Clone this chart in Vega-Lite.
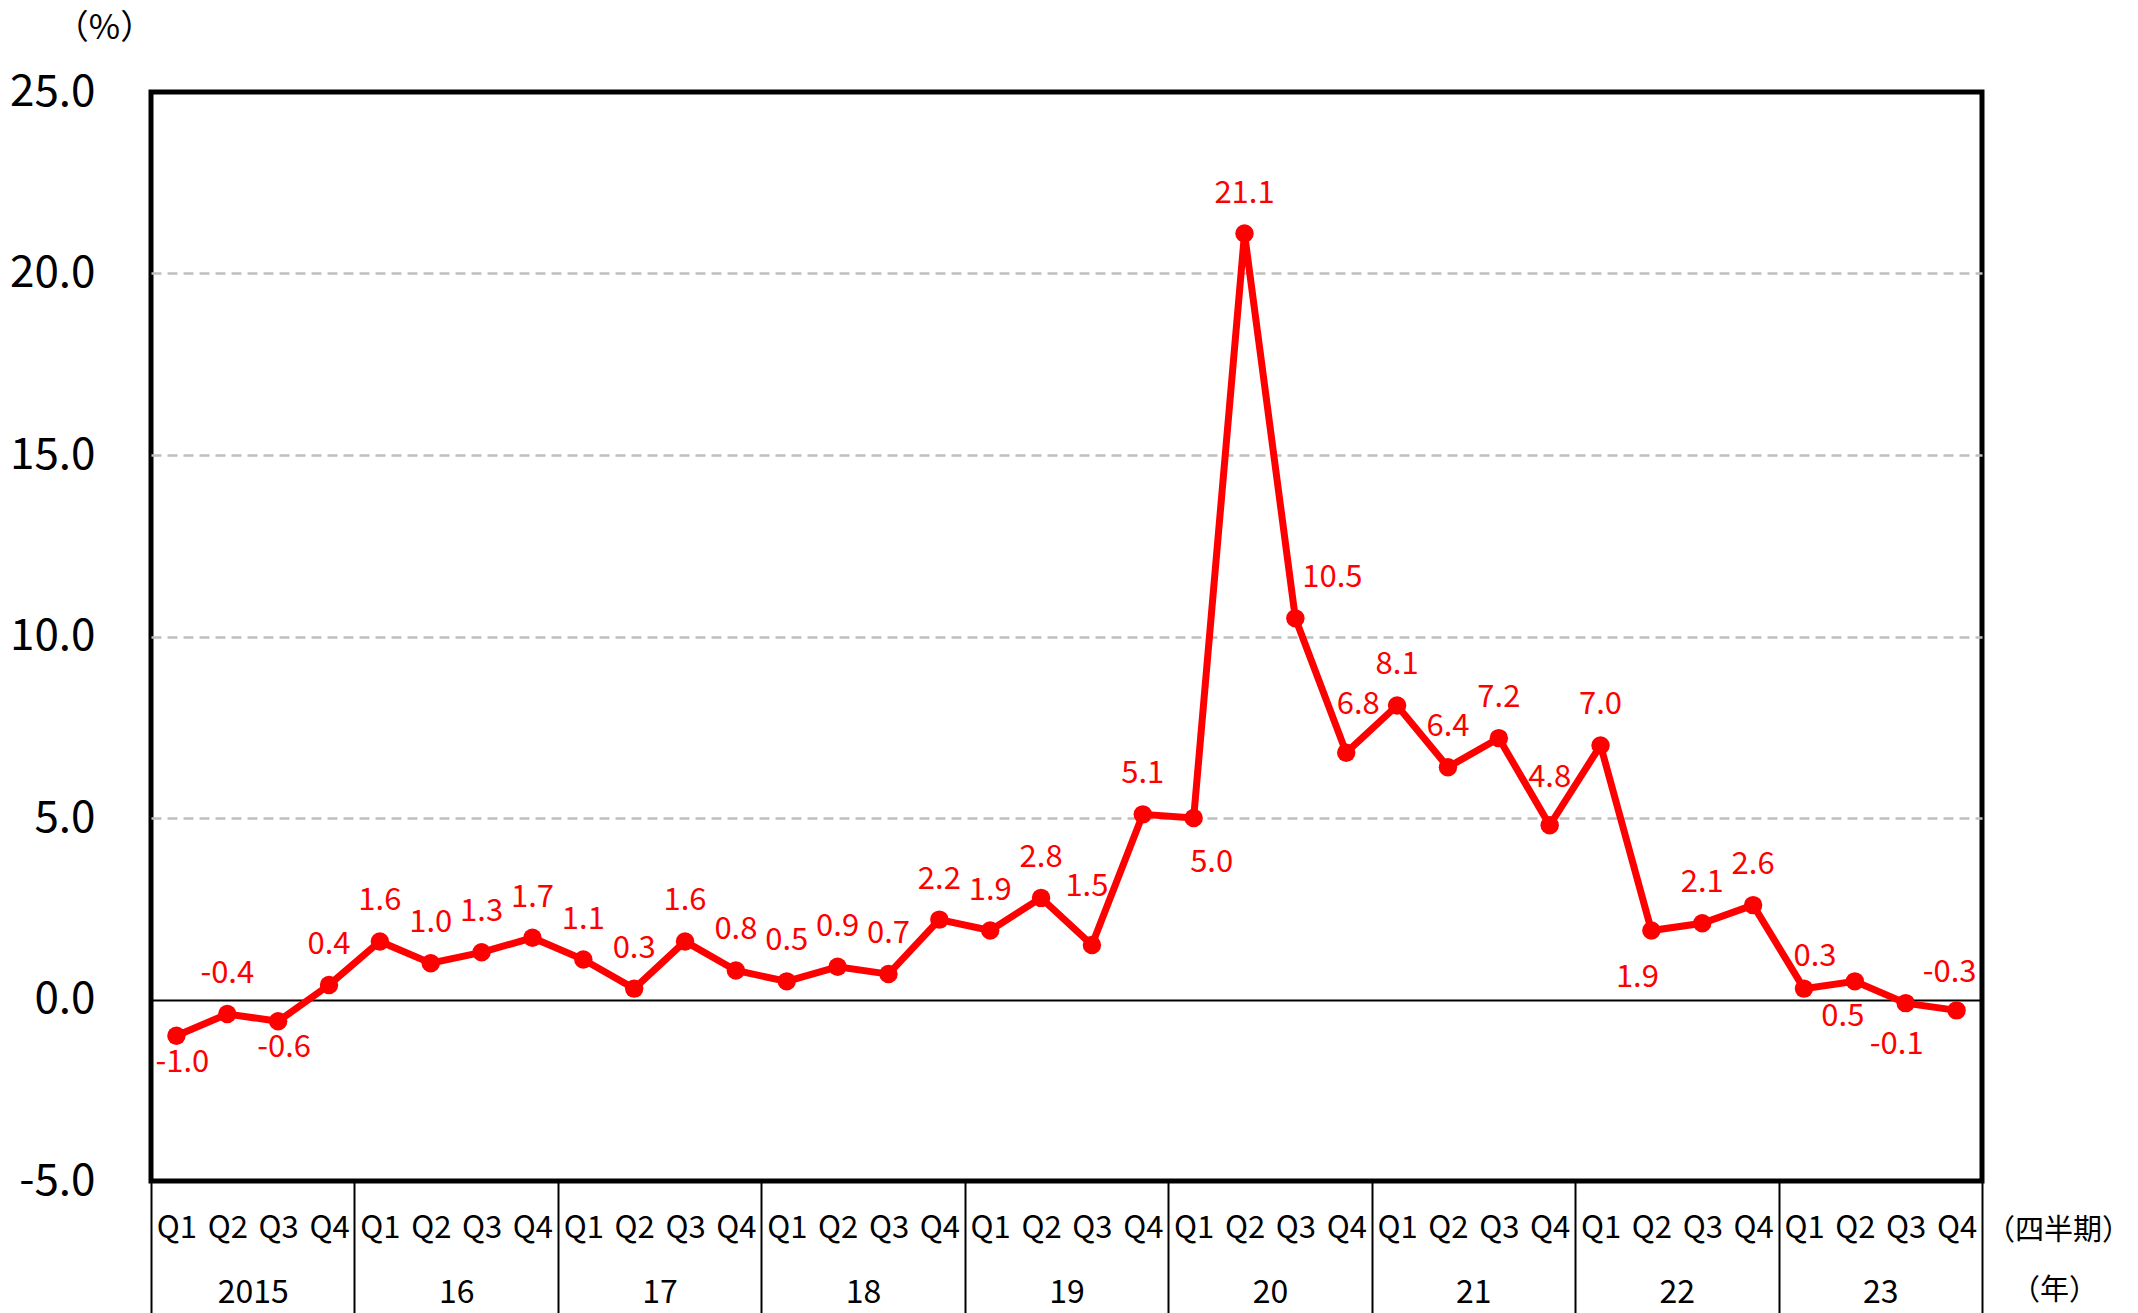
{
  "$schema": "https://vega.github.io/schema/vega-lite/v6.json",
  "width": 1831,
  "height": 1089,
  "autosize": "none",
  "padding": {"left": 151, "top": 92, "right": 156, "bottom": 132},
  "background": "white",
  "config": {
    "font": "Noto Sans CJK JP",
    "locale": {"number": {"decimal": ".", "thousands": ",", "grouping": [3], "currency": ["$", ""], "minus": "-"}},
    "view": {"stroke": "black", "strokeWidth": 5},
    "axis": {"labelColor": "black", "titleColor": "black", "labelFont": "Noto Sans CJK JP", "titleFont": "Noto Sans CJK JP", "titleFontWeight": "normal"}
  },
  "data": {
    "values": [
      {"i": 0, "v": -1.0}, {"i": 1, "v": -0.4}, {"i": 2, "v": -0.6}, {"i": 3, "v": 0.4},
      {"i": 4, "v": 1.6}, {"i": 5, "v": 1.0}, {"i": 6, "v": 1.3}, {"i": 7, "v": 1.7},
      {"i": 8, "v": 1.1}, {"i": 9, "v": 0.3}, {"i": 10, "v": 1.6}, {"i": 11, "v": 0.8},
      {"i": 12, "v": 0.5}, {"i": 13, "v": 0.9}, {"i": 14, "v": 0.7}, {"i": 15, "v": 2.2},
      {"i": 16, "v": 1.9}, {"i": 17, "v": 2.8}, {"i": 18, "v": 1.5}, {"i": 19, "v": 5.1},
      {"i": 20, "v": 5.0}, {"i": 21, "v": 21.1}, {"i": 22, "v": 10.5}, {"i": 23, "v": 6.8},
      {"i": 24, "v": 8.1}, {"i": 25, "v": 6.4}, {"i": 26, "v": 7.2}, {"i": 27, "v": 4.8},
      {"i": 28, "v": 7.0}, {"i": 29, "v": 1.9}, {"i": 30, "v": 2.1}, {"i": 31, "v": 2.6},
      {"i": 32, "v": 0.3}, {"i": 33, "v": 0.5}, {"i": 34, "v": -0.1}, {"i": 35, "v": -0.3}
    ]
  },
  "layer": [
    {
      "encoding": {
        "x": {
          "field": "i", "type": "quantitative",
          "scale": {"domain": [-0.5, 35.5], "nice": false, "zero": false},
          "axis": {
            "orient": "bottom",
            "values": [0,1,2,3,4,5,6,7,8,9,10,11,12,13,14,15,16,17,18,19,20,21,22,23,24,25,26,27,28,29,30,31,32,33,34,35],
            "labelExpr": "'Q' + (datum.value % 4 + 1)",
            "ticks": false, "domain": false, "grid": false,
            "labelFontSize": 31, "labelBaseline": "middle", "labelPadding": 47,
            "labelFlush": false, "labelOverlap": false, "labelBound": false,
            "title": "（四半期）", "titleFontSize": 29, "titleAngle": 0,
            "titleX": 1907, "titleY": 49, "titleAlign": "center", "titleBaseline": "middle"
          }
        },
        "y": {
          "field": "v", "type": "quantitative",
          "scale": {"domain": [-5, 25], "nice": false, "zero": false},
          "axis": {
            "values": [-5, 0, 5, 10, 15, 20, 25],
            "format": ".1f",
            "ticks": false, "domain": false, "grid": true,
            "gridColor": {"condition": {"test": "datum.value === 0", "value": "black"}, "value": "#BFBFBF"},
            "gridDash": {"condition": {"test": "datum.value === 0", "value": []}, "value": [10, 6]},
            "gridWidth": {"condition": {"test": "datum.value === 0", "value": 2}, "value": 2.5},
            "gridOpacity": {"condition": {"test": "datum.value === -5 || datum.value === 25", "value": 0}, "value": 1},
            "labelFontSize": 44, "labelPadding": 56,
            "title": "（%）", "titleFontSize": 34, "titleAngle": 0,
            "titleX": -47, "titleY": -64, "titleAlign": "center", "titleBaseline": "middle"
          }
        }
      },
      "layer": [
        {"mark": {"type": "line", "color": "#FF0000", "strokeWidth": 7}},
        {"mark": {"type": "point", "filled": true, "color": "#FF0000", "size": 340, "opacity": 1}},
        {
          "transform": [{"filter": {"not": {"field": "i", "oneOf": [0, 2, 18, 20, 22, 23, 27, 29, 32, 33, 34, 35]}}}],
          "mark": {"type": "text", "color": "#FF0000", "fontSize": 31, "align": "center", "baseline": "middle", "dy": -40},
          "encoding": {"text": {"field": "v", "type": "quantitative", "format": ".1f"}}
        },
        {
          "transform": [{"filter": {"field": "i", "oneOf": [0, 2]}}],
          "mark": {"type": "text", "color": "#FF0000", "fontSize": 31, "align": "center", "baseline": "middle", "dx": 6, "dy": 27},
          "encoding": {"text": {"field": "v", "type": "quantitative", "format": ".1f"}}
        },
        {
          "transform": [{"filter": {"field": "i", "oneOf": [18]}}],
          "mark": {"type": "text", "color": "#FF0000", "fontSize": 31, "align": "center", "baseline": "middle", "dx": -5, "dy": -58},
          "encoding": {"text": {"field": "v", "type": "quantitative", "format": ".1f"}}
        },
        {
          "transform": [{"filter": {"field": "i", "oneOf": [20]}}],
          "mark": {"type": "text", "color": "#FF0000", "fontSize": 31, "align": "center", "baseline": "middle", "dx": 18, "dy": 45},
          "encoding": {"text": {"field": "v", "type": "quantitative", "format": ".1f"}}
        },
        {
          "transform": [{"filter": {"field": "i", "oneOf": [22]}}],
          "mark": {"type": "text", "color": "#FF0000", "fontSize": 31, "align": "center", "baseline": "middle", "dx": 37, "dy": -40},
          "encoding": {"text": {"field": "v", "type": "quantitative", "format": ".1f"}}
        },
        {
          "transform": [{"filter": {"field": "i", "oneOf": [23]}}],
          "mark": {"type": "text", "color": "#FF0000", "fontSize": 31, "align": "center", "baseline": "middle", "dx": 12, "dy": -48},
          "encoding": {"text": {"field": "v", "type": "quantitative", "format": ".1f"}}
        },
        {
          "transform": [{"filter": {"field": "i", "oneOf": [27]}}],
          "mark": {"type": "text", "color": "#FF0000", "fontSize": 31, "align": "center", "baseline": "middle", "dx": 0, "dy": -47},
          "encoding": {"text": {"field": "v", "type": "quantitative", "format": ".1f"}}
        },
        {
          "transform": [{"filter": {"field": "i", "oneOf": [29]}}],
          "mark": {"type": "text", "color": "#FF0000", "fontSize": 31, "align": "center", "baseline": "middle", "dx": -14, "dy": 47},
          "encoding": {"text": {"field": "v", "type": "quantitative", "format": ".1f"}}
        },
        {
          "transform": [{"filter": {"field": "i", "oneOf": [32]}}],
          "mark": {"type": "text", "color": "#FF0000", "fontSize": 31, "align": "center", "baseline": "middle", "dx": 11, "dy": -32},
          "encoding": {"text": {"field": "v", "type": "quantitative", "format": ".1f"}}
        },
        {
          "transform": [{"filter": {"field": "i", "oneOf": [33]}}],
          "mark": {"type": "text", "color": "#FF0000", "fontSize": 31, "align": "center", "baseline": "middle", "dx": -12, "dy": 36},
          "encoding": {"text": {"field": "v", "type": "quantitative", "format": ".1f"}}
        },
        {
          "transform": [{"filter": {"field": "i", "oneOf": [34]}}],
          "mark": {"type": "text", "color": "#FF0000", "fontSize": 31, "align": "center", "baseline": "middle", "dx": -9, "dy": 42},
          "encoding": {"text": {"field": "v", "type": "quantitative", "format": ".1f"}}
        },
        {
          "transform": [{"filter": {"field": "i", "oneOf": [35]}}],
          "mark": {"type": "text", "color": "#FF0000", "fontSize": 31, "align": "center", "baseline": "middle", "dx": -7, "dy": -37},
          "encoding": {"text": {"field": "v", "type": "quantitative", "format": ".1f"}}
        }
      ]
    },
    {
      "mark": {"type": "rule", "strokeOpacity": 0},
      "encoding": {
        "x": {
          "field": "i", "type": "quantitative",
          "scale": {"domain": [-0.5, 35.5], "nice": false, "zero": false},
          "axis": {
            "orient": "bottom",
            "values": [-0.5, 3.5, 7.5, 11.5, 15.5, 19.5, 23.5, 27.5, 31.5, 35.5],
            "labelExpr": "datum.value < 0 ? '2015' : (datum.value > 33 ? '' : '' + (16 + floor((datum.value - 3.5) / 4)))",
            "ticks": true, "tickSize": 132, "tickWidth": 2, "tickColor": "black",
            "domain": false, "grid": false,
            "labelFontSize": 32, "labelBaseline": "middle", "labelPadding": -21, "labelOffset": 101.7,
            "labelFlush": false, "labelOverlap": false, "labelBound": false,
            "title": "（年）", "titleFontSize": 29, "titleAngle": 0,
            "titleX": 1903, "titleY": 109, "titleAlign": "center", "titleBaseline": "middle"
          }
        }
      }
    }
  ],
  "resolve": {"scale": {"x": "independent"}, "axis": {"x": "independent"}}
}
